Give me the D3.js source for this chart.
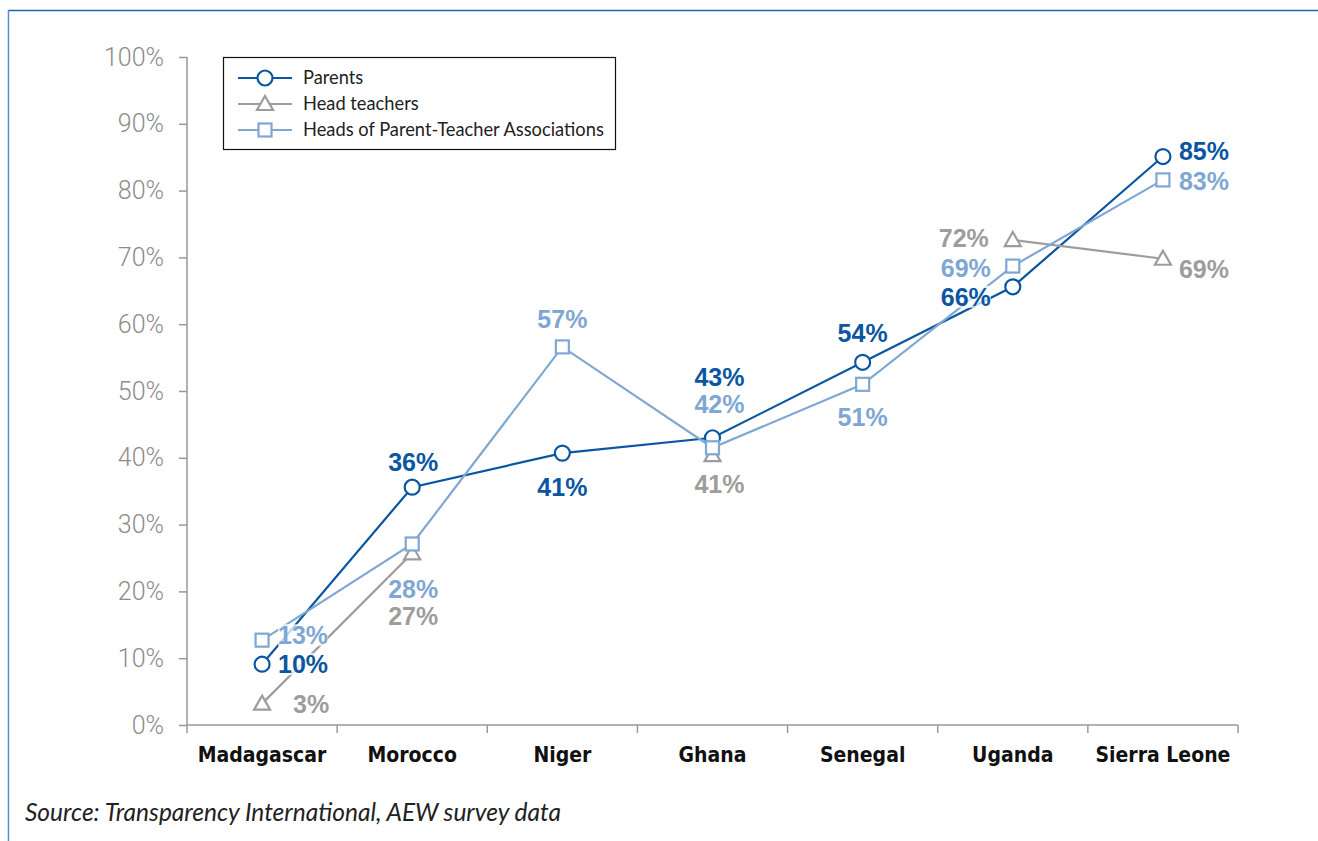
<!DOCTYPE html>
<html>
<head>
<meta charset="utf-8">
<title>Parents, head teachers and PTA heads</title>
<script src="https://d3js.org/d3.v7.min.js"></script>
<style>
  body { margin: 0; background: #fff; }
  .ytick text { font-family: Roboto, "Liberation Sans", sans-serif; font-weight: 300; font-size: 25px; fill: #8c8c8c; }
  .xcat text { font-family: "DejaVu Sans Condensed", "DejaVu Sans", sans-serif; font-weight: bold; font-size: 21px; fill: #111; }
  .val { font-family: "Liberation Sans", Arial, sans-serif; font-weight: bold; font-size: 25px; }
  .legend text { font-family: Lato, "Open Sans", sans-serif; font-size: 18.3px; fill: #222; }
  .source { font-family: Lato, "Open Sans", sans-serif; font-style: italic; font-size: 24.5px; fill: #222; }
</style>
</head>
<body>
<svg width="1318" height="841"></svg>
<script>
// data
var countries = ["Madagascar", "Morocco", "Niger", "Ghana", "Senegal", "Uganda", "Sierra Leone"];
var parents      = [9.1, 35.6, 40.7, 43.0, 54.3, 65.6, 85.1];
var headTeachers = [3.2, 25.7, null, 40.4, null, 72.6, 69.8];
var ptaHeads     = [12.7, 27.1, 56.6, 41.5, 51.0, 68.7, 81.6];
var parentsLbl = ["10%", "36%", "41%", "43%", "54%", "66%", "85%"];
var headLbl    = ["3%", "27%", null, "41%", null, "72%", "69%"];
var ptaLbl     = ["13%", "28%", "57%", "42%", "51%", "69%", "83%"];
var yTicks = [0, 10, 20, 30, 40, 50, 60, 70, 80, 90, 100];

// where each value label sits relative to its point [dx, dy, anchor]
var parentsPos = [[16, 0, "start"], [1, -25, "middle"], [0, 34, "middle"], [7, -61, "middle"], [0, -29, "middle"], [-22, 10, "end"], [16, -6, "start"]];
var headPos    = [[31, 0, "start"], [1, 63, "middle"], null, [7, 29, "middle"], null, [-24, -2, "end"], [16, 10, "start"]];
var ptaPos     = [[16, -5, "start"], [1, 45, "middle"], [0, -28, "middle"], [7, -44, "middle"], [0, 33, "middle"], [-22, 2, "end"], [16, 1, "start"]];

var series = [
  { name: "Parents", values: parents, labels: parentsLbl, pos: parentsPos, color: "#0b56a2", shape: "circle" },
  { name: "Head teachers", values: headTeachers, labels: headLbl, pos: headPos, color: "#9d9d9d", shape: "triangle" },
  { name: "Heads of Parent-Teacher Associations", values: ptaHeads, labels: ptaLbl, pos: ptaPos, color: "#7fa7d3", shape: "square" }
];

var svg = d3.select("svg");

// blue frame lines, top and left
svg.append("line").attr("x1", 8).attr("x2", 1318).attr("y1", 10.5).attr("y2", 10.5)
   .attr("stroke", "#1b65b4").attr("stroke-width", 1.5);
svg.append("line").attr("x1", 8.5).attr("x2", 8.5).attr("y1", 10).attr("y2", 841)
   .attr("stroke", "#5b8fcb").attr("stroke-width", 1.5);

var x = d3.scaleBand().domain(countries).range([187, 1238]);
var y = d3.scaleLinear().domain([0, 100]).range([725, 57]);
var cx = function(i) { return x(countries[i]) + x.bandwidth() / 2; };

// y axis
var yAxis = svg.append("g").attr("class", "ytick")
   .attr("transform", "translate(187,0)")
   .call(d3.axisLeft(y).tickValues(yTicks).tickSize(8).tickSizeOuter(0).tickPadding(15)
         .tickFormat(function(d) { return d + "%"; }));
yAxis.selectAll("line, path").attr("stroke", "#999").attr("stroke-width", 1.5);
yAxis.select(".domain").attr("d", "M0,57V725");

// x axis: boundary ticks + category labels
var bounds = d3.range(countries.length + 1).map(function(i) { return 187 + i * x.step(); });
var xg = svg.append("g").attr("class", "xcat");
xg.append("line").attr("x1", 187).attr("x2", 1238).attr("y1", 725).attr("y2", 725)
  .attr("stroke", "#999").attr("stroke-width", 1.5);
xg.selectAll(".bt").data(bounds).enter().append("line")
  .attr("x1", function(d) { return d; }).attr("x2", function(d) { return d; })
  .attr("y1", 725).attr("y2", 733).attr("stroke", "#999").attr("stroke-width", 1.5);
xg.selectAll("text").data(countries).enter().append("text")
  .attr("x", function(d) { return x(d) + x.bandwidth() / 2; })
  .attr("y", 762).attr("text-anchor", "middle")
  .text(function(d) { return d; });

// lines
series.forEach(function(s) {
  var line = d3.line()
    .defined(function(d) { return d != null; })
    .x(function(d, i) { return cx(i); })
    .y(function(d) { return y(d); });
  svg.append("path").datum(s.values)
    .attr("fill", "none").attr("stroke", s.color).attr("stroke-width", 2.2)
    .attr("d", line);
});

// label backings (semi transparent, they fade the lines under them)
var labelLayer = svg.append("g");
var markerLayer = svg.append("g");
var textLayer = svg.append("g");

function marker(g, shape, color, px, py) {
  if (shape === "circle") {
    g.append("circle").attr("cx", px).attr("cy", py).attr("r", 7.5)
      .attr("fill", "#fff").attr("stroke", color).attr("stroke-width", 2.2);
  } else if (shape === "square") {
    g.append("rect").attr("x", px - 6.5).attr("y", py - 6.5).attr("width", 13).attr("height", 13)
      .attr("fill", "#fff").attr("stroke", color).attr("stroke-width", 2.2);
  } else {
    g.append("path").attr("d", "M" + px + "," + (py - 8) + "L" + (px + 8) + "," + (py + 6) + "L" + (px - 8) + "," + (py + 6) + "Z")
      .attr("fill", "#fff").attr("stroke", color).attr("stroke-width", 2.2);
  }
}

series.forEach(function(s) {
  s.values.forEach(function(v, i) {
    if (v == null) return;
    var px = cx(i), py = y(v);
    marker(markerLayer, s.shape, s.color, px, py);
    var p = s.pos[i];
    var t = textLayer.append("text").attr("class", "val")
      .attr("x", px + p[0]).attr("y", py + p[1])
      .attr("dy", "0.36em")
      .attr("text-anchor", p[2]).attr("fill", s.color)
      .text(s.labels[i]);
    var b = t.node().getBBox();
    labelLayer.append("rect").attr("x", b.x).attr("y", b.y + 3).attr("width", b.width).attr("height", b.height - 6)
      .attr("fill", "#fff").attr("opacity", 0.75);
  });
});

// legend
var lg = svg.append("g").attr("class", "legend");
lg.append("rect").attr("x", 223.5).attr("y", 57.5).attr("width", 392).attr("height", 92)
  .attr("fill", "#fff").attr("stroke", "#111").attr("stroke-width", 1.2);
series.forEach(function(s, i) {
  var ly = 78 + i * 26;
  lg.append("line").attr("x1", 238).attr("x2", 292).attr("y1", ly).attr("y2", ly)
    .attr("stroke", s.color).attr("stroke-width", 2.2);
  marker(lg, s.shape, s.color, 265, ly);
  lg.append("text").attr("x", 303).attr("y", ly).attr("dy", "0.35em").text(s.name);
});

svg.append("text").attr("class", "source").attr("x", 25).attr("y", 821)
   .text("Source: Transparency International, AEW survey data");
</script>
</body>
</html>
